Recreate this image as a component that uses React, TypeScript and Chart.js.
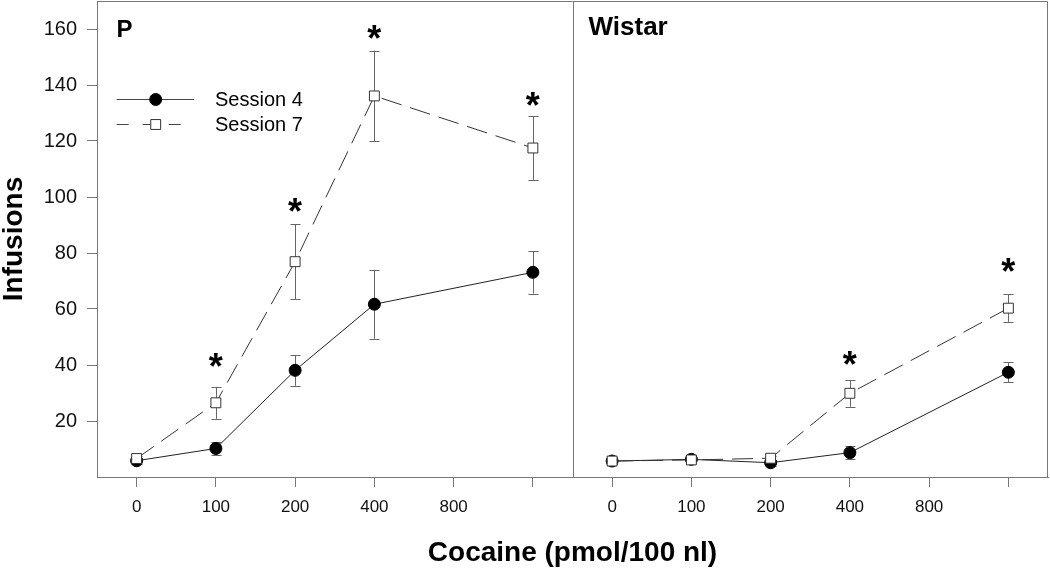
import React, { useEffect, useRef } from 'react';
import { Chart, registerables } from 'chart.js';

Chart.register(...registerables);

// ---- data ----
const doseLabels = ['0', '100', '200', '400', '800', ''];
const dosePositions = [0, 1, 2, 3, 5];
const yTickValues = [20, 40, 60, 80, 100, 120, 140, 160];
const panelNames = ['P', 'Wistar'];
const seriesNames = ['Session 4', 'Session 7'];

const pSession4 = [5.8, 10.2, 38.1, 61.7, 73.1];
const pSession4Err = [1.0, 2.3, 5.5, 12.3, 7.6];
const pSession7 = [6.6, 26.5, 76.9, 136.1, 117.5];
const pSession7Err = [1.0, 5.7, 13.4, 16.2, 11.4];

const wSession4 = [5.7, 6.3, 5.1, 8.7, 37.4];
const wSession4Err = [1.0, 1.2, 1.0, 2.4, 3.5];
const wSession7 = [5.7, 6.1, 6.7, 29.9, 60.3];
const wSession7Err = [0.8, 0.8, 0.8, 4.8, 4.9];

const pStarPositions = [1, 2, 3, 5];
const pStarHeights = [41.8, 97.1, 159, 134.9];
const wStarPositions = [3, 5];
const wStarHeights = [42.4, 75.7];

const SLOTS = 6; // tick slots per panel
const FONT = '"Liberation Sans", Arial, sans-serif';
const AXIS_COLOR = '#777';

const pts = (vals: number[], shift: number) =>
  vals.map((v, i) => ({ x: dosePositions[i] + shift, y: v }));

const s4Style = {
  borderColor: '#222',
  borderWidth: 1,
  pointStyle: 'circle',
  pointRadius: 6,
  pointBackgroundColor: '#000',
  pointBorderColor: '#000',
  pointBorderWidth: 1,
  showLine: true,
  order: 1,
};
const s7Style = {
  borderColor: '#333',
  borderWidth: 1,
  borderDash: [21, 9],
  pointStyle: 'rect',
  pointRadius: 7,
  pointBackgroundColor: '#fff',
  pointBorderColor: '#333',
  pointBorderWidth: 1,
  showLine: true,
  order: 0,
};

const errorBarPlugin = {
  id: 'errorBars',
  beforeDatasetsDraw(chart: any) {
    const { ctx } = chart;
    const yScale = chart.scales.y;
    ctx.save();
    ctx.strokeStyle = '#666';
    ctx.lineWidth = 1;
    chart.data.datasets.forEach((ds: any, di: number) => {
      const meta = chart.getDatasetMeta(di);
      meta.data.forEach((el: any, i: number) => {
        const v = ds.data[i].y;
        const e = ds.errors[i];
        const x = Math.round(el.x) + 0.5;
        const y1 = yScale.getPixelForValue(v + e);
        const y2 = yScale.getPixelForValue(v - e);
        ctx.beginPath();
        ctx.moveTo(x, y1);
        ctx.lineTo(x, y2);
        ctx.moveTo(x - 5, Math.round(y1) + 0.5);
        ctx.lineTo(x + 5, Math.round(y1) + 0.5);
        ctx.moveTo(x - 5, Math.round(y2) + 0.5);
        ctx.lineTo(x + 5, Math.round(y2) + 0.5);
        ctx.stroke();
      });
    });
    ctx.restore();
  },
};

const framePlugin = {
  id: 'frame',
  afterDraw(chart: any) {
    const { ctx, chartArea } = chart;
    const xScale = chart.scales.x;
    const { left, right, top, bottom } = chartArea;
    ctx.save();
    ctx.strokeStyle = AXIS_COLOR;
    ctx.lineWidth = 1;
    const t = Math.round(top) + 0.5;
    const r = Math.round(right) - 0.5;
    const mid = Math.round(xScale.getPixelForValue(SLOTS - 0.5)) + 0.5;
    ctx.beginPath();
    ctx.moveTo(left, t);
    ctx.lineTo(r, t);
    ctx.lineTo(r, bottom);
    ctx.moveTo(mid, t);
    ctx.lineTo(mid, bottom);
    ctx.stroke();

    // panel labels
    ctx.fillStyle = '#000';
    ctx.textBaseline = 'alphabetic';
    ctx.textAlign = 'left';
    ctx.font = `bold 24px ${FONT}`;
    ctx.fillText(panelNames[0], xScale.getPixelForValue(-0.5) + 19.5, top + 36.3);
    ctx.font = `bold 26px ${FONT}`;
    ctx.fillText(panelNames[1], xScale.getPixelForValue(SLOTS - 0.5) + 16, top + 34);

    // significance stars
    const yScale = chart.scales.y;
    ctx.font = `bold 36px ${FONT}`;
    ctx.textAlign = 'center';
    const m = ctx.measureText('*');
    const off = (m.actualBoundingBoxAscent - m.actualBoundingBoxDescent) / 2;
    const drawStar = (pos: number, h: number) => {
      ctx.fillText('*', xScale.getPixelForValue(pos), yScale.getPixelForValue(h) + off);
    };
    pStarPositions.forEach((p, i) => drawStar(p, pStarHeights[i]));
    wStarPositions.forEach((p, i) => drawStar(p + SLOTS, wStarHeights[i]));

    // legend
    const lx0 = left + 19.7;
    const lx1 = left + 97;
    const mx = left + 58.7;
    const rows = [top + 98, top + 123];
    ctx.font = `20px ${FONT}`;
    ctx.textAlign = 'left';
    ctx.textBaseline = 'middle';
    rows.forEach((ly, i) => {
      const st = i === 0 ? s4Style : s7Style;
      ctx.strokeStyle = '#444';
      ctx.lineWidth = 1;
      ctx.setLineDash(i === 0 ? [] : [12, 14]);
      ctx.beginPath();
      ctx.moveTo(lx0, Math.round(ly) + 0.5);
      ctx.lineTo(lx1, Math.round(ly) + 0.5);
      ctx.stroke();
      ctx.setLineDash([]);
      ctx.fillStyle = st.pointBackgroundColor;
      ctx.strokeStyle = st.pointBorderColor;
      ctx.beginPath();
      if (i === 0) {
        ctx.arc(mx, ly + 0.5, st.pointRadius, 0, Math.PI * 2);
      } else {
        const s = st.pointRadius * Math.SQRT1_2;
        ctx.rect(mx - s, ly + 0.5 - s, 2 * s, 2 * s);
      }
      ctx.fill();
      ctx.stroke();
      ctx.fillStyle = '#000';
      ctx.fillText(seriesNames[i], left + 118, ly + 1);
    });
    ctx.restore();
  },
};

export default function App() {
  const ref = useRef<HTMLCanvasElement | null>(null);
  useEffect(() => {
    document.body.style.margin = '0';
    const chart = new Chart(ref.current as HTMLCanvasElement, {
      type: 'scatter',
      data: {
        datasets: [
          { label: 'P ' + seriesNames[0], data: pts(pSession4, 0), errors: pSession4Err, ...s4Style },
          { label: 'P ' + seriesNames[1], data: pts(pSession7, 0), errors: pSession7Err, ...s7Style },
          { label: 'Wistar ' + seriesNames[0], data: pts(wSession4, SLOTS), errors: wSession4Err, ...s4Style },
          { label: 'Wistar ' + seriesNames[1], data: pts(wSession7, SLOTS), errors: wSession7Err, ...s7Style },
        ] as any,
      },
      options: {
        animation: false,
        responsive: true,
        maintainAspectRatio: false,
        layout: { autoPadding: false, padding: { top: 1, right: 2, left: 0, bottom: 0 } },
        plugins: { legend: { display: false }, tooltip: { enabled: false } },
        scales: {
          x: {
            type: 'linear',
            min: -0.5,
            max: SLOTS * 2 - 0.5,
            afterBuildTicks: (s: any) => {
              const vals: number[] = [];
              for (let p = 0; p < 2; p++) doseLabels.forEach((_, i) => vals.push(i + p * SLOTS));
              s.ticks = vals.map((v) => ({ value: v }));
            },
            afterFit: (s: any) => {
              s.height = 93;
              s.paddingLeft = 0;
              s.paddingRight = 0;
            },
            ticks: {
              autoSkip: false,
              maxRotation: 0,
              padding: 10,
              color: '#111',
              font: { family: FONT, size: 17 },
              callback: (v: any) => doseLabels[Math.round(Number(v)) % SLOTS],
            },
            grid: { drawOnChartArea: false, drawTicks: true, tickLength: 10, color: AXIS_COLOR },
            border: { display: true, color: AXIS_COLOR },
            title: {
              display: true,
              text: 'Cocaine (pmol/100 nl)',
              color: '#000',
              font: { family: FONT, size: 28, weight: 'bold', lineHeight: 1 },
              padding: { top: 0, bottom: 3 },
            },
          },
          y: {
            min: 0,
            max: 170,
            afterBuildTicks: (s: any) => {
              s.ticks = yTickValues.map((v) => ({ value: v }));
            },
            afterFit: (s: any) => {
              s.width = 97;
              s.paddingTop = 0;
              s.paddingBottom = 0;
            },
            ticks: {
              padding: 10,
              color: '#111',
              font: { family: FONT, size: 20 },
            },
            grid: { drawOnChartArea: false, drawTicks: true, tickLength: 10, color: AXIS_COLOR },
            border: { display: true, color: AXIS_COLOR },
            title: {
              display: true,
              text: 'Infusions',
              color: '#000',
              font: { family: FONT, size: 28, weight: 'bold', lineHeight: 1 },
              padding: 0,
            },
          },
        },
      } as any,
      plugins: [errorBarPlugin, framePlugin],
    });
    return () => chart.destroy();
  }, []);
  return (
    <div style={{ position: 'absolute', left: 0, top: 0, width: 1050, height: 570 }}>
      <canvas ref={ref} />
    </div>
  );
}
